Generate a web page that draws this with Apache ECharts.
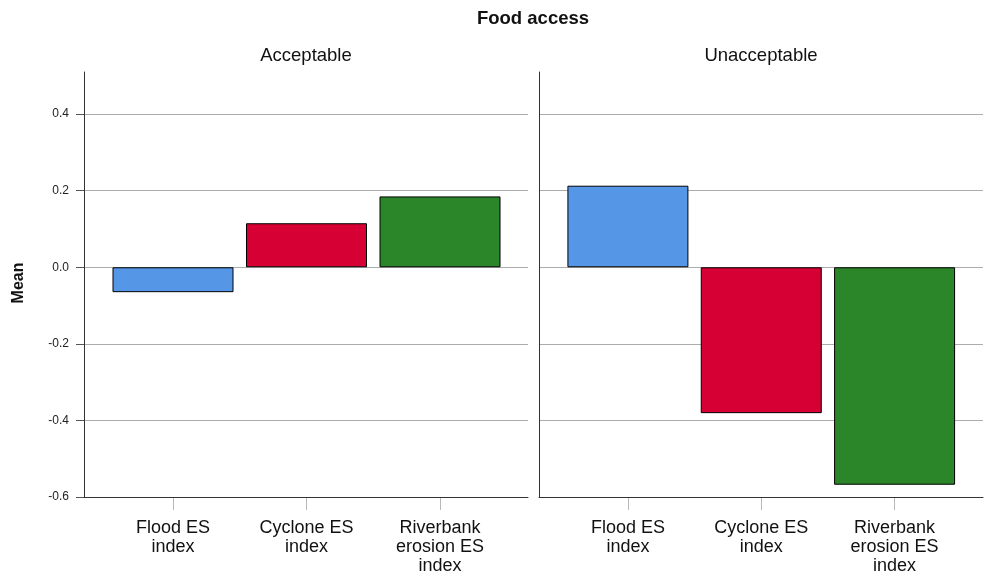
<!DOCTYPE html>
<html>
<head>
<meta charset="utf-8">
<script src="https://cdn.jsdelivr.net/npm/echarts@6/dist/echarts.min.js"></script>
<style>html,body{margin:0;padding:0;background:#fff}#c{width:984px;height:577px}</style>
</head>
<body>
<div id="c"></div>
<script>
const categories = ['Flood ES\nindex', 'Cyclone ES\nindex', 'Riverbank\nerosion ES\nindex'];
const panels = ['Acceptable', 'Unacceptable'];
const acceptable = [-0.065, 0.115, 0.185];
const unacceptable = [0.213, -0.381, -0.568];
const barColors = ['#5596e6', '#d70034', '#2a8629'];
const yMin = -0.6, yTickMax = 0.4, yTop = 0.51, yStep = 0.2;

const FONT = '"Liberation Sans", Arial, sans-serif';
const chart = echarts.init(document.getElementById('c'), null, {renderer: 'canvas'});

const gridBase = {containLabel: false, outerBoundsMode: 'none'};
const grids = [
  Object.assign({left: 84, right: 456, top: 114, bottom: 80}, gridBase),
  Object.assign({left: 539, right: 1, top: 114, bottom: 80}, gridBase),
  Object.assign({left: 106.25, right: 477.25, top: 72, bottom: 80}, gridBase),
  Object.assign({left: 561.25, right: 22.75, top: 72, bottom: 80}, gridBase)
];

function frameX(g) {
  return {gridIndex: g, type: 'value', min: 0, max: 1,
    axisLine: {show: true, onZero: false, lineStyle: {color: '#333', width: 1}},
    axisTick: {show: false}, axisLabel: {show: false}, splitLine: {show: false}, z: 5};
}
function catX(g) {
  return {gridIndex: g, type: 'category', data: categories,
    axisLine: {show: false, onZero: false},
    axisTick: {show: true, alignWithLabel: true, length: 13, lineStyle: {color: '#b8b8b8'}},
    axisLabel: {fontFamily: FONT, fontSize: 18, color: '#111', lineHeight: 19, margin: 22, interval: 0}};
}

const xAxes = [frameX(0), frameX(1), catX(2), catX(3)];

const yAxes = [
  {gridIndex: 0, type: 'value', min: yMin, max: yTickMax, interval: yStep, axisLine: {show: false}, axisTick: {show: true, length: 8, lineStyle: {color: '#555'}}, axisLabel: {fontFamily: FONT, fontSize: 12, color: '#222', margin: 15, formatter: v => v.toFixed(1)}, splitLine: {show: true, lineStyle: {color: '#acacac', width: 1}}},
  {gridIndex: 1, type: 'value', min: yMin, max: yTickMax, interval: yStep, axisLine: {show: false}, axisTick: {show: false}, axisLabel: {show: false}, splitLine: {show: true, lineStyle: {color: '#acacac', width: 1}}},
  {gridIndex: 2, type: 'value', min: yMin, max: yTop, offset: 22.25, axisLine: {show: true, onZero: false, lineStyle: {color: '#333', width: 1}}, axisTick: {show: false}, axisLabel: {show: false}, splitLine: {show: false}},
  {gridIndex: 3, type: 'value', min: yMin, max: yTop, offset: 22.25, axisLine: {show: true, onZero: false, lineStyle: {color: '#333', width: 1}}, axisTick: {show: false}, axisLabel: {show: false}, splitLine: {show: false}}
];

function barSeries(values, idx) {
  return {
    type: 'bar', xAxisIndex: idx, yAxisIndex: idx,
    barWidth: 121,
    data: values.map((v, i) => ({value: v, itemStyle: {color: barColors[i]}})),
    itemStyle: {borderColor: '#000', borderWidth: 1},
    emphasis: {disabled: true},
    animation: false
  };
}

chart.setOption({
  animation: false,
  backgroundColor: '#fff',
  graphic: [
    {type: 'text', x: 533, y: 19, style: {text: 'Food access', font: 'bold 18.5px ' + FONT, fill: '#111', align: 'center', verticalAlign: 'middle'}},
    {type: 'text', x: 306, y: 56, style: {text: panels[0], font: '18.5px ' + FONT, fill: '#111', align: 'center', verticalAlign: 'middle'}},
    {type: 'text', x: 761, y: 56, style: {text: panels[1], font: '18.5px ' + FONT, fill: '#111', align: 'center', verticalAlign: 'middle'}},
    {type: 'text', x: 19, y: 283, rotation: Math.PI / 2, style: {text: 'Mean', font: 'bold 16px ' + FONT, fill: '#111', align: 'center', verticalAlign: 'middle'}}
  ],
  grid: grids,
  xAxis: xAxes,
  yAxis: yAxes,
  series: [barSeries(acceptable, 2), barSeries(unacceptable, 3)]
});
</script>
</body>
</html>
